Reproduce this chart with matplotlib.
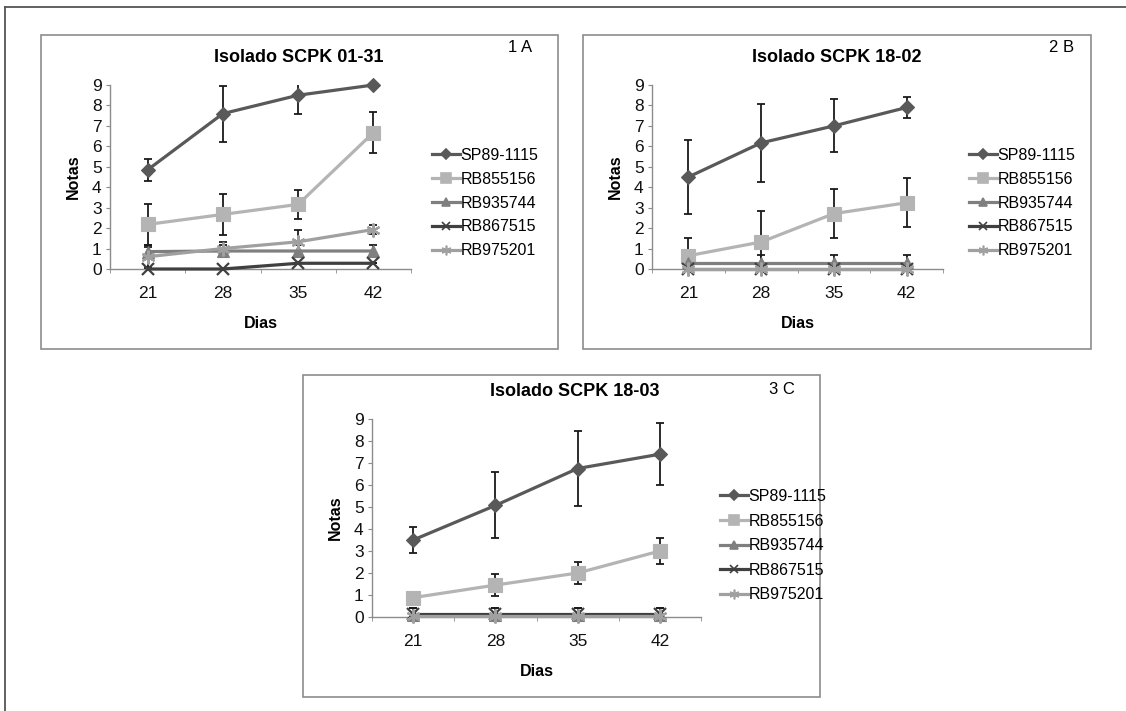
import matplotlib
matplotlib.use("Agg")
import matplotlib.pyplot as plt
from matplotlib.patches import Rectangle
from matplotlib.lines import Line2D

plt.rcParams['font.family'] = ['Liberation Sans', 'DejaVu Sans']

W, H = 1126, 711

days = ["21", "28", "35", "42"]
series_names = ["SP89-1115", "RB855156", "RB935744", "RB867515", "RB975201"]

# Panel 1 - Isolado SCPK 01-31
p1_sp89 = [4.85, 7.6, 8.5, 9.0]
p1_sp89_err = [0.55, 1.37, 0.9, 0.0]
p1_rb855156 = [2.18, 2.67, 3.16, 6.67]
p1_rb855156_err = [1.0, 1.0, 0.7, 1.0]
p1_rb935744 = [0.85, 0.88, 0.88, 0.88]
p1_rb935744_err = [0.3, 0.3, 0.3, 0.3]
p1_rb867515 = [0.0, 0.0, 0.28, 0.28]
p1_rb867515_err = [0.0, 0.0, 0.0, 0.0]
p1_rb975201 = [0.6, 1.0, 1.33, 1.93]
p1_rb975201_err = [0.5, 0.3, 0.6, 0.2]

# Panel 2 - Isolado SCPK 18-02
p2_sp89 = [4.5, 6.17, 7.0, 7.9]
p2_sp89_err = [1.8, 1.9, 1.3, 0.5]
p2_rb855156 = [0.65, 1.32, 2.71, 3.24]
p2_rb855156_err = [0.85, 1.5, 1.2, 1.2]
p2_rb935744 = [0.3, 0.3, 0.3, 0.3]
p2_rb935744_err = [0.38, 0.38, 0.38, 0.38]
p2_rb867515 = [0.0, 0.0, 0.0, 0.0]
p2_rb867515_err = [0.0, 0.0, 0.0, 0.0]
p2_rb975201 = [0.0, 0.0, 0.0, 0.0]
p2_rb975201_err = [0.0, 0.0, 0.0, 0.0]

# Panel 3 - Isolado SCPK 18-03
p3_sp89 = [3.5, 5.07, 6.75, 7.4]
p3_sp89_err = [0.6, 1.5, 1.7, 1.4]
p3_rb855156 = [0.88, 1.45, 2.0, 3.0]
p3_rb855156_err = [0.0, 0.5, 0.5, 0.6]
p3_rb935744 = [0.1, 0.1, 0.1, 0.1]
p3_rb935744_err = [0.3, 0.3, 0.3, 0.3]
p3_rb867515 = [0.12, 0.12, 0.12, 0.12]
p3_rb867515_err = [0.3, 0.3, 0.3, 0.3]
p3_rb975201 = [0.05, 0.05, 0.05, 0.05]
p3_rb975201_err = [0.0, 0.0, 0.0, 0.0]

titles = ["Isolado SCPK 01-31", "Isolado SCPK 18-02", "Isolado SCPK 18-03"]
tags = ["1 A", "2 B", "3 C"]

colors = ["#595959", "#b4b4b4", "#7f7f7f", "#404040", "#a0a0a0"]
markers = ["D", "s", "^", "x", (6, 2, 0)]
msizes = [7, 9.5, 8.5, 9, 10]

panels = [
    [(p1_sp89, p1_sp89_err), (p1_rb855156, p1_rb855156_err), (p1_rb935744, p1_rb935744_err),
     (p1_rb867515, p1_rb867515_err), (p1_rb975201, p1_rb975201_err)],
    [(p2_sp89, p2_sp89_err), (p2_rb855156, p2_rb855156_err), (p2_rb935744, p2_rb935744_err),
     (p2_rb867515, p2_rb867515_err), (p2_rb975201, p2_rb975201_err)],
    [(p3_sp89, p3_sp89_err), (p3_rb855156, p3_rb855156_err), (p3_rb935744, p3_rb935744_err),
     (p3_rb867515, p3_rb867515_err), (p3_rb975201, p3_rb975201_err)],
]

# layout in pixels
boxes = [(41, 35, 558, 349), (583, 35, 1091, 349), (303, 375, 820, 697)]
axes_px = [(110, 85, 411, 269), (652, 85, 943, 269), (372, 419, 701, 617)]
title_px = [(299, 57), (837, 57), (575, 392)]
tag_px = [(520, 48), (1062, 48), (782, 390)]
legend_px = [(432, 148), (969, 148), (720, 489)]
legend_spacing = [0.55, 0.55, 0.6]

fig = plt.figure(figsize=(W / 100, H / 100), dpi=100)
fig.patch.set_facecolor("white")

def fx(x):
    return x / W

def fy(y):
    return 1 - y / H

# outer frame (top and left)
fig.add_artist(Line2D([fx(5), fx(1126)], [fy(7), fy(7)], color="#555555", lw=1.3, transform=fig.transFigure))
fig.add_artist(Line2D([fx(5), fx(5)], [fy(7), fy(711)], color="#555555", lw=1.3, transform=fig.transFigure))

for i in range(3):
    bx0, by0, bx1, by1 = boxes[i]
    fig.add_artist(Rectangle((fx(bx0), fy(by1)), fx(bx1) - fx(bx0), fy(by0) - fy(by1),
                             transform=fig.transFigure, fill=False, edgecolor="#8c8c8c", lw=1.2))
    ax0, ay0, ax1, ay1 = axes_px[i]
    ax = fig.add_axes([fx(ax0), fy(ay1), fx(ax1) - fx(ax0), fy(ay0) - fy(ay1)])
    ax.set_facecolor("none")
    xs = list(range(len(days)))
    handles = []
    for j, (vals, errs) in enumerate(panels[i]):
        ax.errorbar(xs, vals, yerr=errs, fmt="none", ecolor="#1a1a1a", elinewidth=1.3,
                    capsize=3, capthick=1.3, zorder=2)
        ax.plot(xs, vals, color=colors[j], lw=2.3, marker=markers[j], markersize=msizes[j],
                markeredgewidth=1.6 if j in (3, 4) else 0.8, markeredgecolor=colors[j],
                markerfacecolor=colors[j], zorder=3 + j, clip_on=False, label=series_names[j])
        handles.append(Line2D([], [], color=colors[j], lw=2.3, marker=markers[j],
                              markersize=msizes[j] * 0.7, markeredgecolor=colors[j],
                              markerfacecolor=colors[j], markeredgewidth=1.2))
    ax.set_xlim(-0.5, 3.5)
    ax.set_ylim(0, 9)
    ax.set_yticks(range(10))
    ax.set_xticks(xs)
    ax.set_xticklabels(days)
    ax.set_xticks([-0.5, 0.5, 1.5, 2.5, 3.5], minor=True)
    for s in ("top", "right"):
        ax.spines[s].set_visible(False)
    for s in ("left", "bottom"):
        ax.spines[s].set_color("#8c8c8c")
        ax.spines[s].set_linewidth(1.0)
    ax.tick_params(axis="y", direction="out", length=3, color="#8c8c8c", labelsize=12.5, pad=3,
                   labelcolor="#111111")
    ax.tick_params(axis="x", which="major", length=0, labelsize=12.5, pad=12, labelcolor="#111111")
    ax.tick_params(axis="x", which="minor", direction="out", length=3, color="#8c8c8c")
    ax.set_ylabel("Notas", fontsize=11.5, fontweight="bold", labelpad=8)
    ax.set_xlabel("Dias", fontsize=11.5, fontweight="bold", labelpad=11)

    tx, ty = title_px[i]
    fig.text(fx(tx), fy(ty), titles[i], ha="center", va="center", fontsize=13, fontweight="bold")
    gx, gy = tag_px[i]
    fig.text(fx(gx), fy(gy), tags[i], ha="center", va="center", fontsize=12)

    lx, ly = legend_px[i]
    fig.legend(handles, series_names, loc="upper left", bbox_to_anchor=(fx(lx), fy(ly)),
               bbox_transform=fig.transFigure, frameon=False, fontsize=11.5, handlelength=1.75,
               handletextpad=0.05, labelspacing=legend_spacing[i], borderpad=0, borderaxespad=0)

fig.savefig("out.png", dpi=100, facecolor="white")
